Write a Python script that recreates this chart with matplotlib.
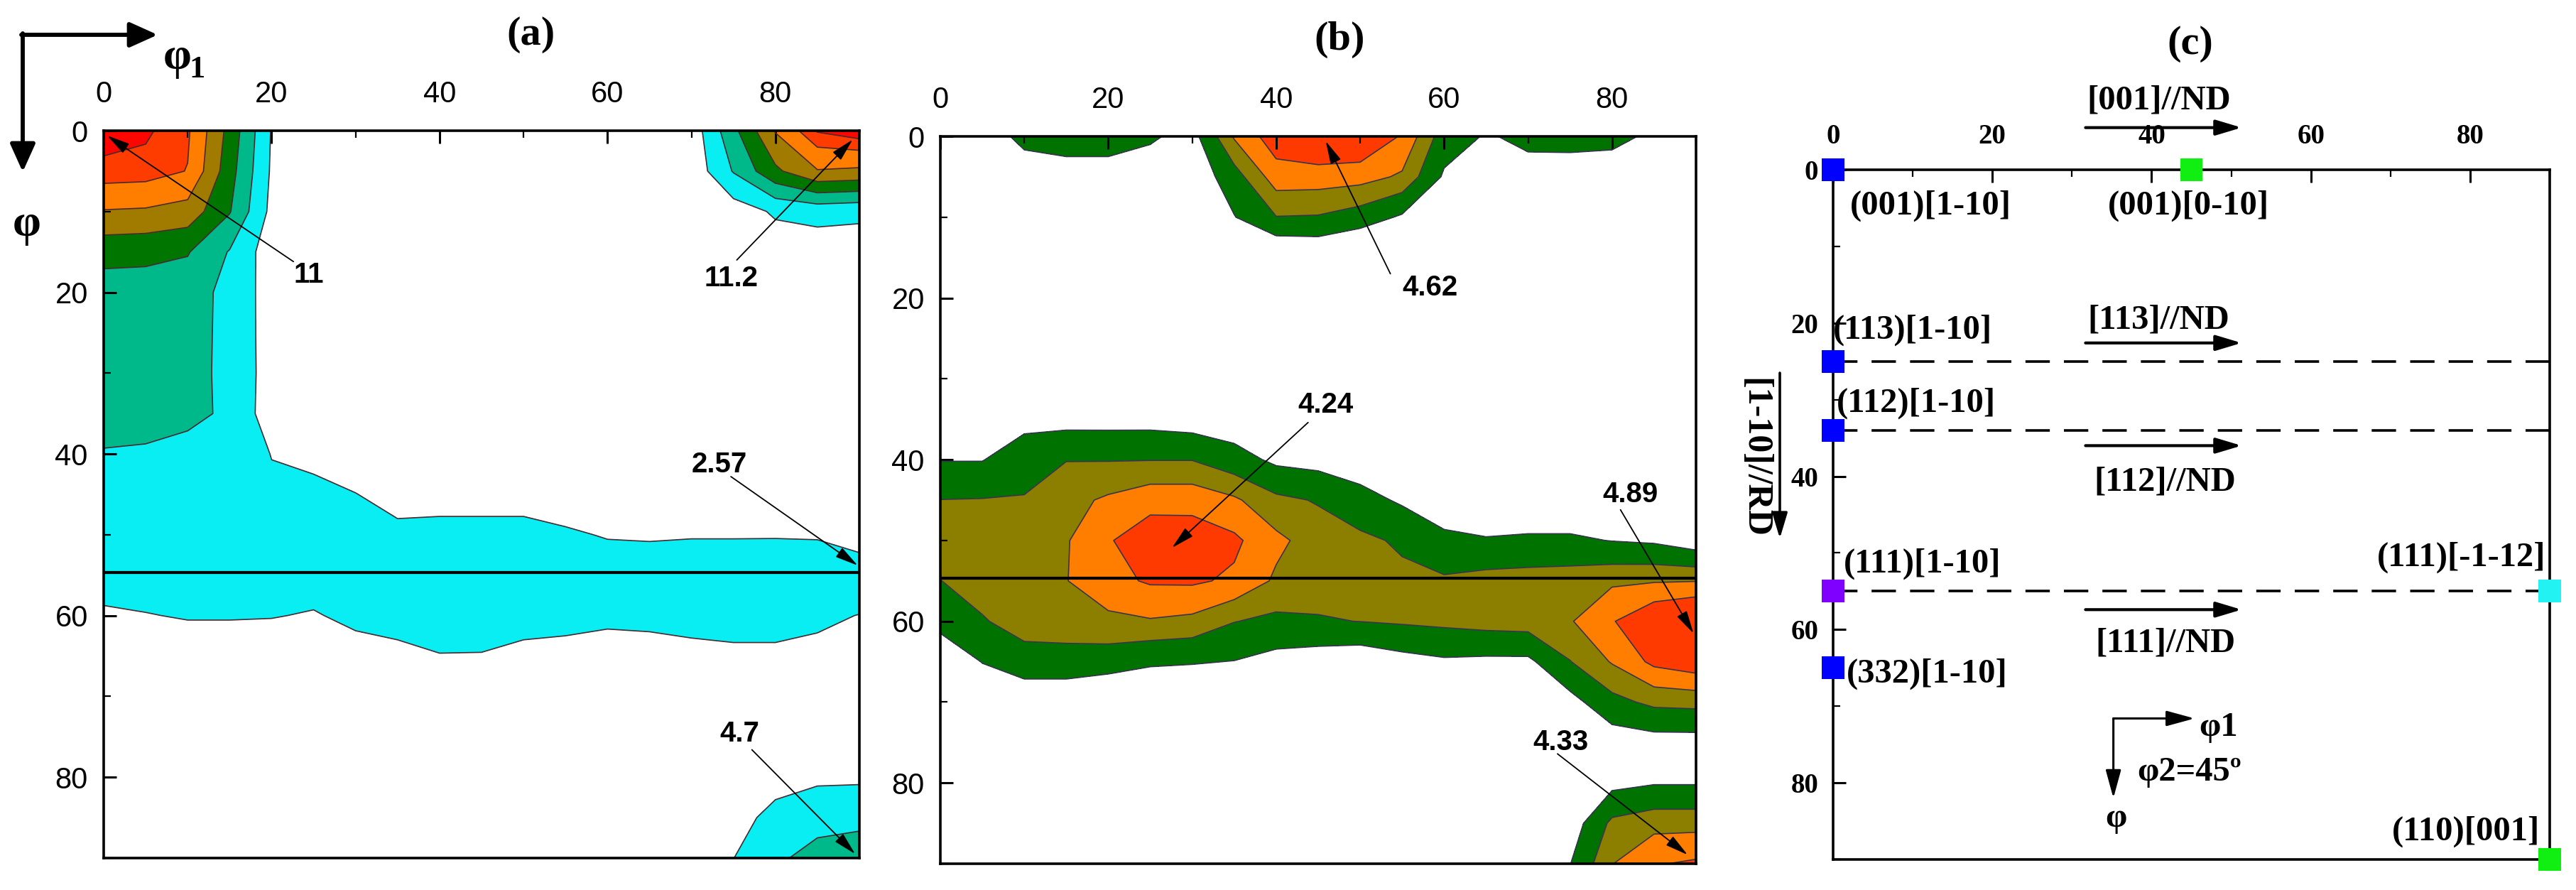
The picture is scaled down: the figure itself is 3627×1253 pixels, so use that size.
import numpy as np
import matplotlib
matplotlib.use("Agg")
import matplotlib.pyplot as plt
from matplotlib.ticker import MultipleLocator

W_PX, H_PX, DPI = 3627, 1253, 100

# ---------------- data ----------------
phi1_grid = [0, 5, 10, 15, 20, 25, 30, 35, 40, 45, 50, 55, 60, 65, 70, 75, 80, 85, 90]
Phi_grid = [0, 5, 10, 15, 20, 25, 30, 35, 40, 45, 50, 55, 60, 65, 70, 75, 80, 85, 90]

# ODF section (a), rows = Phi, columns = phi1
odf_a = [
    [11.0, 10.7, 9.7, 6.0, 1.9, 1.2, 1.2, 1.2, 1.2, 1.2, 1.2, 1.2, 1.2, 1.2, 1.1, 4.6, 8.1, 10.6, 11.2],
    [10.2, 10.1, 9.45, 5.6, 1.8, 1.2, 1.1, 1.0, 1.0, 1.0, 1.0, 1.0, 1.0, 1.0, 1.0, 3.6, 6.2, 7.9, 7.7],
    [7.9, 7.8, 7.4, 5.1, 1.6, 1.1, 1.0, 1.0, 1.0, 1.0, 1.0, 1.0, 1.0, 1.0, 0.9, 1.25, 2.2, 2.5, 2.3],
    [5.5, 5.4, 5.1, 3.4, 1.15, 1.0, 1.0, 1.0, 1.0, 1.0, 1.0, 1.0, 1.0, 1.0, 0.9, 1.0, 1.2, 1.2, 1.3],
    [4.3, 4.3, 4.2, 3.05, 1.35, 1.0, 1.0, 1.0, 1.0, 1.0, 1.0, 1.0, 1.0, 1.0, 1.0, 1.0, 1.0, 1.0, 1.0],
    [4.1, 4.1, 4.0, 3.15, 1.3, 1.0, 1.0, 1.0, 1.0, 1.0, 1.0, 1.0, 1.0, 1.0, 1.0, 1.0, 1.0, 1.0, 1.0],
    [3.95, 3.95, 3.9, 3.2, 1.3, 1.1, 1.0, 1.0, 1.0, 1.0, 1.0, 1.0, 1.0, 1.0, 1.0, 1.0, 1.0, 1.0, 1.0],
    [3.8, 3.8, 3.65, 3.4, 1.1, 1.3, 1.2, 1.1, 1.1, 1.1, 1.1, 1.1, 1.1, 1.1, 1.1, 1.1, 1.1, 1.1, 1.1],
    [3.45, 3.4, 3.3, 3.2, 1.95, 1.8, 1.5, 1.3, 1.3, 1.3, 1.3, 1.25, 1.2, 1.2, 1.2, 1.2, 1.2, 1.2, 1.2],
    [3.0, 2.95, 2.9, 2.9, 2.3, 2.2, 2.02, 1.7, 1.7, 1.7, 1.7, 1.6, 1.5, 1.5, 1.5, 1.5, 1.5, 1.5, 1.3],
    [2.6, 2.6, 2.6, 2.6, 2.5, 2.5, 2.5, 2.2, 2.25, 2.25, 2.25, 2.1, 1.95, 1.92, 1.95, 1.95, 1.95, 1.93, 1.55],
    [2.3, 2.35, 2.35, 2.35, 2.35, 2.3, 2.45, 2.5, 2.55, 2.55, 2.5, 2.45, 2.4, 2.4, 2.45, 2.45, 2.5, 2.5, 2.57],
    [1.9, 1.97, 2.05, 2.05, 2.03, 1.95, 2.15, 2.3, 2.4, 2.4, 2.3, 2.25, 2.15, 2.2, 2.25, 2.3, 2.3, 2.15, 1.98],
    [1.5, 1.55, 1.6, 1.6, 1.6, 1.5, 1.75, 1.8, 1.97, 1.96, 1.8, 1.75, 1.7, 1.7, 1.8, 1.85, 1.85, 1.8, 1.6],
    [1.2, 1.2, 1.2, 1.2, 1.2, 1.2, 1.3, 1.35, 1.5, 1.5, 1.4, 1.35, 1.3, 1.3, 1.4, 1.45, 1.5, 1.5, 1.4],
    [1.0, 1.0, 1.0, 1.0, 1.0, 1.0, 1.0, 1.05, 1.1, 1.1, 1.1, 1.1, 1.1, 1.1, 1.2, 1.35, 1.4, 1.5, 1.45],
    [0.9, 0.9, 0.9, 0.9, 0.9, 0.9, 0.9, 0.9, 0.9, 0.9, 0.9, 0.9, 0.9, 1.0, 1.3, 1.5, 1.75, 1.75, 1.8],
    [0.8, 0.8, 0.8, 0.8, 0.8, 0.8, 0.8, 0.8, 0.8, 0.8, 0.8, 0.8, 0.85, 1.0, 1.4, 1.75, 2.2, 2.9, 2.9],
    [0.8, 0.8, 0.8, 0.8, 0.8, 0.8, 0.8, 0.8, 0.8, 0.8, 0.8, 0.8, 0.85, 1.1, 1.5, 1.98, 3.2, 4.1, 4.7],
]

# ODF section (b)
odf_b = [
    [1.2, 1.6, 2.2, 2.3, 2.3, 2.1, 1.74, 3.37, 4.25, 4.6, 4.55, 3.83, 2.36, 1.94, 2.15, 2.2, 2.15, 1.9, 1.6],
    [1.3, 1.4, 1.6, 1.7, 1.7, 1.6, 1.5, 2.41, 3.62, 3.6, 3.53, 3.21, 1.9, 1.6, 1.76, 1.7, 1.7, 1.6, 1.5],
    [1.3, 1.3, 1.4, 1.4, 1.4, 1.35, 1.3, 1.97, 2.68, 2.65, 2.38, 1.9, 1.4, 1.4, 1.4, 1.4, 1.4, 1.4, 1.4],
    [1.2, 1.2, 1.3, 1.3, 1.3, 1.3, 1.1, 1.3, 1.2, 1.3, 1.0, 1.2, 1.2, 1.2, 1.2, 1.2, 1.2, 1.2, 1.2],
    [1.1, 1.1, 1.1, 1.1, 1.1, 1.1, 1.1, 1.1, 1.1, 1.1, 1.1, 1.1, 1.1, 1.1, 1.1, 1.1, 1.1, 1.1, 1.1],
    [1.1, 1.1, 1.1, 1.1, 1.1, 1.1, 1.1, 1.1, 1.1, 1.1, 1.1, 1.1, 1.1, 1.1, 1.1, 1.1, 1.1, 1.1, 1.1],
    [1.3, 1.3, 1.3, 1.3, 1.3, 1.3, 1.25, 1.2, 1.1, 1.1, 1.1, 1.1, 1.1, 1.1, 1.1, 1.1, 1.1, 1.1, 1.1],
    [1.5, 1.5, 1.75, 1.75, 1.75, 1.75, 1.65, 1.55, 1.4, 1.3, 1.3, 1.2, 1.2, 1.2, 1.2, 1.2, 1.2, 1.2, 1.2],
    [1.97, 1.97, 2.44, 2.68, 2.67, 2.68, 2.68, 2.3, 1.85, 1.75, 1.6, 1.4, 1.35, 1.3, 1.3, 1.3, 1.3, 1.3, 1.3],
    [2.71, 2.73, 2.74, 3.1, 3.4, 3.7, 3.7, 3.4, 2.85, 2.65, 2.25, 1.9, 1.6, 1.5, 1.5, 1.5, 1.5, 1.45, 1.4],
    [2.95, 3.0, 3.1, 3.25, 3.85, 4.24, 4.22, 4.02, 3.45, 3.0, 2.85, 2.6, 2.15, 2.05, 2.1, 2.1, 1.98, 1.9, 1.6],
    [2.69, 2.95, 3.15, 3.28, 3.72, 3.97, 3.99, 3.8, 3.2, 2.95, 2.9, 2.85, 2.8, 2.95, 3.0, 3.05, 3.2, 3.25, 3.28],
    [2.2, 2.65, 2.95, 3.0, 3.15, 3.25, 3.15, 2.72, 2.55, 2.65, 2.71, 2.78, 2.85, 2.95, 3.0, 3.25, 3.85, 4.5, 4.85],
    [1.53, 2.02, 2.45, 2.45, 2.35, 2.1, 2.05, 1.98, 1.75, 1.6, 1.5, 1.75, 1.9, 1.85, 1.85, 2.68, 3.35, 4.05, 4.3],
    [1.2, 1.5, 1.4, 1.4, 1.2, 1.3, 1.3, 1.3, 1.2, 1.2, 1.1, 1.1, 1.2, 1.3, 1.3, 1.75, 2.5, 2.85, 2.9],
    [1.0, 1.0, 1.0, 1.0, 1.0, 1.0, 1.0, 1.0, 1.0, 1.0, 1.0, 1.0, 1.0, 1.1, 1.2, 1.3, 1.6, 1.7, 1.7],
    [0.9, 0.9, 0.9, 0.9, 0.9, 0.9, 0.9, 0.9, 0.9, 0.9, 0.9, 0.9, 0.9, 1.0, 1.1, 1.3, 1.8, 1.95, 1.95],
    [0.9, 0.9, 0.9, 0.9, 0.9, 0.9, 0.9, 0.9, 0.9, 0.9, 0.9, 0.9, 0.9, 0.9, 1.1, 1.6, 2.85, 3.1, 3.1],
    [0.9, 0.9, 0.9, 0.9, 0.9, 0.9, 0.9, 0.9, 0.9, 0.9, 0.9, 0.9, 0.9, 0.9, 1.2, 1.98, 3.28, 3.85, 4.0],
]

levels_a = [2.0, 3.5, 5.0, 6.5, 8.0, 9.5, 10.5]
levels_b = [2.0, 2.7, 3.3, 3.9]
colors_a = ['#08EEF2', '#00B98A', '#007600', '#A07B00', '#FF7E00', '#FF3C00', '#FF0500']
colors_b = ['#007200', '#8C7F00', '#FF7E00', '#FF3A00']

axis_ticks = [0, 20, 40, 60, 80]
fiber_111 = 54.7

peak_text_a = ['11', '11.2', '2.57', '4.7']
peak_xy_a = [(0.4, 0.6), (89.2, 1.1), (89.8, 53.8), (89.5, 89.5)]
peak_text_b = ['4.62', '4.24', '4.89', '4.33']
peak_xy_b = [(45.9, 0.6), (27.6, 50.9), (89.7, 61.5), (89.0, 88.9)]

# ideal components for (c)
comp_names = ['(001)[1-10]', '(001)[0-10]', '(113)[1-10]', '(112)[1-10]',
              '(111)[1-10]', '(111)[-1-12]', '(332)[1-10]', '(110)[001]']
comp_phi1 = [0, 45, 0, 0, 0, 90, 0, 90]
comp_Phi = [0, 0, 25, 34, 55, 55, 65, 90]
comp_colors = ['#0000FF', '#11EE11', '#0000FF', '#0000FF', '#7F00FF', '#22F2F2', '#0000FF', '#11EE11']
fiber_names = ['[001]//ND', '[113]//ND', '[112]//ND', '[111]//ND']
fiber_Phi = [25, 34, 55]

# ---------------- layout (pixel geometry) ----------------
def frac(l, t, r, b):
    return [l / W_PX, 1 - b / H_PX, (r - l) / W_PX, (b - t) / H_PX]

fig = plt.figure(figsize=(W_PX / DPI, H_PX / DPI), dpi=DPI)
fig.patch.set_facecolor('white')

ax_a = fig.add_axes(frac(146, 184, 1210, 1208))
ax_b = fig.add_axes(frac(1324, 192, 2388, 1216))
ax_c = fig.add_axes(frac(2581, 239, 3590, 1210))

SANS = 'Liberation Sans'
SERIF = 'Liberation Serif'


def style_axes(ax, family, size, weight, xpad, ypad, spine_lw):
    ax.set_xlim(0, 90)
    ax.set_ylim(90, 0)
    ax.set_xticks(axis_ticks)
    ax.set_yticks(axis_ticks)
    ax.xaxis.set_minor_locator(MultipleLocator(10))
    ax.yaxis.set_minor_locator(MultipleLocator(10))
    ax.tick_params(which='both', direction='in', top=True, bottom=False, left=True,
                   right=False, labeltop=True, labelbottom=False, colors='black')
    ax.tick_params(which='major', length=13, width=2.2)
    ax.tick_params(which='minor', length=7, width=1.6)
    ax.tick_params(axis='x', which='major', pad=xpad)
    ax.tick_params(axis='y', which='major', pad=ypad)
    ax.set_xticklabels([str(t) for t in axis_ticks], fontsize=size, family=family, fontweight=weight)
    ax.set_yticklabels([str(t) for t in axis_ticks], fontsize=size, family=family, fontweight=weight)
    for s in ax.spines.values():
        s.set_linewidth(spine_lw)
        s.set_color('black')


def draw_odf(ax, data, levels, colors, line_color):
    Z = np.array(data)
    ax.contourf(phi1_grid, Phi_grid, Z, levels=levels + [100.0], colors=colors, zorder=1)
    ax.contour(phi1_grid, Phi_grid, Z, levels=levels, colors=line_color, linewidths=1.2, zorder=2)
    ax.axhline(fiber_111, color='black', lw=3.0, zorder=3)


arrow_thin = dict(arrowstyle='-|>,head_length=0.9,head_width=0.22', lw=1.3, color='black',
                  mutation_scale=22, shrinkA=0, shrinkB=0)

# panel (a)
draw_odf(ax_a, odf_a, levels_a, colors_a, '#4a2a30')
style_axes(ax_a, SANS, 30, 'normal', 22, 16, 2.6)
text_pos_a = [(24.4, 17.8), (74.7, 18.3), (73.3, 41.3), (75.7, 74.6)]
start_a = [(22.6, 16.2), (75.4, 16.0), (74.7, 42.8), (77.2, 76.6)]
for lab, tip, tp, st in zip(peak_text_a, peak_xy_a, text_pos_a, start_a):
    ax_a.text(tp[0], tp[1], lab, ha='center', va='center', fontsize=29, family=SANS,
              fontweight='bold', zorder=6)
    ax_a.annotate('', xy=tip, xytext=st, arrowprops=arrow_thin, annotation_clip=False, zorder=6)

# panel (b)
draw_odf(ax_b, odf_b, levels_b, colors_b, '#38344e')
style_axes(ax_b, SANS, 30, 'normal', 22, 16, 2.6)
text_pos_b = [(58.3, 18.7), (45.9, 33.2), (82.2, 44.3), (73.9, 75.0)]
start_b = [(53.6, 17.0), (43.8, 35.4), (81.0, 46.2), (73.5, 76.4)]
for lab, tip, tp, st in zip(peak_text_b, peak_xy_b, text_pos_b, start_b):
    ax_b.text(tp[0], tp[1], lab, ha='center', va='center', fontsize=29, family=SANS,
              fontweight='bold', zorder=6)
    ax_b.annotate('', xy=tip, xytext=st, arrowprops=arrow_thin, annotation_clip=False, zorder=6)

# panel (c)
style_axes(ax_c, SERIF, 28, 'bold', 20, 15, 2.6)
for ph in fiber_Phi:
    ax_c.plot([0, 90], [ph, ph], color='black', lw=2.6, linestyle=(0, (9.5, 5.5)), zorder=3)
ax_c.scatter(comp_phi1, comp_Phi, marker='s', s=23 ** 2, c=comp_colors, linewidths=0,
             clip_on=False, zorder=5)

LBL = 35
comp_text_pos = [(2.1, 4.7, 'left'), (34.5, 4.7, 'left'), (0.0, 20.9, 'left'), (0.4, 30.5, 'left'),
                 (1.3, 51.4, 'left'), (89.5, 50.6, 'right'), (1.7, 65.8, 'left'), (88.8, 86.4, 'right')]
for name, (x, y, ha) in zip(comp_names, comp_text_pos):
    ax_c.text(x, y, name, ha=ha, va='center', fontsize=LBL, family=SERIF, fontweight='bold',
              zorder=6, clip_on=False)

fiber_text_pos = [(40.9, -9.0), (40.9, 19.6), (41.7, 40.7), (41.7, 61.8)]
fiber_arrow_y = [-5.5, 22.6, 36.0, 57.4]
arrow_c = dict(arrowstyle='-|>,head_length=1.0,head_width=0.3', lw=3.0, color='black',
               mutation_scale=22, shrinkA=0, shrinkB=0)
for name, (x, y), ay in zip(fiber_names, fiber_text_pos, fiber_arrow_y):
    ax_c.text(x, y, name, ha='center', va='center', fontsize=LBL, family=SERIF, fontweight='bold',
              zorder=6, clip_on=False)
    ax_c.annotate('', xy=(51.3, ay), xytext=(31.7, ay), arrowprops=arrow_c, annotation_clip=False)

# small coordinate-system inset in (c)
arrow_s = dict(arrowstyle='-|>,head_length=1.1,head_width=0.3', lw=2.2, color='black',
               mutation_scale=22, shrinkA=0, shrinkB=0)
ax_c.annotate('', xy=(45.4, 71.6), xytext=(35.2, 71.6), arrowprops=arrow_s, annotation_clip=False)
ax_c.annotate('', xy=(35.2, 82.0), xytext=(35.2, 71.6), arrowprops=arrow_s, annotation_clip=False)
ax_c.text(48.4, 72.8, 'φ1', ha='center', va='center', fontsize=LBL, family=SERIF, fontweight='bold')
ax_c.text(38.2, 78.6, 'φ2=45º', ha='left', va='center', fontsize=LBL, family=SERIF, fontweight='bold')
ax_c.text(35.5, 84.6, 'φ', ha='center', va='center', fontsize=LBL, family=SERIF, fontweight='bold')

# ---------------- overlay (figure pixel coords) ----------------
ov = fig.add_axes([0, 0, 1, 1], zorder=10)
ov.set_xlim(0, W_PX)
ov.set_ylim(H_PX, 0)
ov.axis('off')
ov.patch.set_alpha(0)

panel_titles = ['(a)', '(b)', '(c)']
title_xy = [(747, 49), (1886, 56), (3084, 62)]
for t, (x, y) in zip(panel_titles, title_xy):
    ov.text(x, y, t, ha='center', va='center', fontsize=42, family=SERIF, fontweight='bold')

arrow_big = dict(arrowstyle='-|>,head_length=1.0,head_width=0.45', lw=4.2, color='black',
                 mutation_scale=24, shrinkA=0, shrinkB=0)
ov.annotate('', xy=(222, 49), xytext=(30, 49), arrowprops=arrow_big)
ov.annotate('', xy=(32, 242), xytext=(32, 47), arrowprops=arrow_big)
ov.text(250, 82, 'φ', ha='center', va='center', fontsize=46, family=SERIF, fontweight='bold')
ov.text(266, 98, '1', ha='left', va='center', fontsize=32, family=SERIF, fontweight='bold')
ov.text(38, 317, 'φ', ha='center', va='center', fontsize=46, family=SERIF, fontweight='bold')

ov.text(2470, 645, '[1-10]//RD', ha='center', va='center', rotation=270, fontsize=36,
        family=SERIF, fontweight='bold')
ov.annotate('', xy=(2506, 758), xytext=(2506, 525), arrowprops=dict(
    arrowstyle='-|>,head_length=1.0,head_width=0.3', lw=2.6, color='black',
    mutation_scale=22, shrinkA=0, shrinkB=0))

fig.savefig('out.png', dpi=DPI, facecolor='white')
